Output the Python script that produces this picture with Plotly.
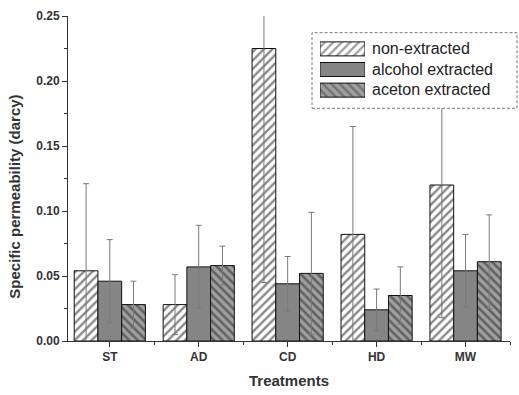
import plotly.graph_objects as go

categories = ["ST", "AD", "CD", "HD", "MW"]
series_names = ["non-extracted", "alcohol extracted", "aceton extracted"]
non_extracted = [0.054, 0.028, 0.225, 0.082, 0.120]
non_extracted_err = [0.067, 0.023, 0.180, 0.083, 0.102]
alcohol_extracted = [0.046, 0.057, 0.044, 0.024, 0.054]
alcohol_extracted_err = [0.032, 0.032, 0.021, 0.016, 0.028]
aceton_extracted = [0.028, 0.058, 0.052, 0.035, 0.061]
aceton_extracted_err = [0.018, 0.015, 0.047, 0.022, 0.036]
y_ticks = [0.00, 0.05, 0.10, 0.15, 0.20, 0.25]

FONT = "Liberation Sans, Arial, sans-serif"
x_pos = list(range(len(categories)))

styles = [
    dict(color="white", pattern=dict(shape="/", fgcolor="#111111", bgcolor="white", size=6, solidity=0.4)),
    dict(color="#858585", pattern=dict(shape="", fgcolor="#858585", bgcolor="#858585")),
    dict(color="#a0a0a0", pattern=dict(shape="\\", fgcolor="#222222", bgcolor="#a0a0a0", size=6, solidity=0.42)),
]
values = [non_extracted, alcohol_extracted, aceton_extracted]
errors = [non_extracted_err, alcohol_extracted_err, aceton_extracted_err]

fig = go.Figure()
for name, vals, errs, st in zip(series_names, values, errors, styles):
    fig.add_trace(go.Bar(
        x=x_pos, y=vals, name=name, showlegend=False,
        marker=dict(color=st["color"], pattern=st["pattern"], line=dict(color="#111", width=1)),
        error_y=dict(type="data", array=errs, visible=True, color="#7a7a7a", thickness=1, width=3),
    ))

# legend background (covers marks beneath legend box)
fig.add_trace(go.Scatter(
    x=[0, 1, 1, 0, 0], y=[0, 0, 1, 1, 0], xaxis="x2", yaxis="y2",
    mode="lines", fill="toself", fillcolor="white", line=dict(width=0, color="white"),
    hoverinfo="skip", showlegend=False,
))

# legend swatches
fig.add_trace(go.Bar(
    y=list(range(len(series_names))), x=[1] * len(series_names), orientation="h",
    xaxis="x3", yaxis="y3", width=0.68, showlegend=False, hoverinfo="skip",
    marker=dict(
        color=[s["color"] for s in styles],
        pattern=dict(
            shape=[s["pattern"]["shape"] for s in styles],
            fgcolor=[s["pattern"]["fgcolor"] for s in styles],
            bgcolor=[s["pattern"]["bgcolor"] for s in styles],
            size=6, solidity=0.4,
        ),
        line=dict(color="#111", width=1),
    ),
))

L, R, T, B, W, H = 68, 9, 10, 54, 519, 395
pw, ph = W - L - R, H - T - B
def px_x(px):
    return (px - L) / pw
def px_y(py):
    return (H - B - py) / ph

fig.update_layout(
    width=W, height=H,
    margin=dict(l=L, r=R, t=T, b=B),
    paper_bgcolor="white", plot_bgcolor="white",
    barmode="group", bargap=0.2, bargroupgap=0,
    font=dict(family=FONT, color="#333"),
    xaxis=dict(
        range=[-0.47, 4.5], tickvals=x_pos, ticktext=categories,
        showline=True, linecolor="#333", linewidth=1, showgrid=False, zeroline=False,
        ticks="outside", ticklen=5, tickcolor="#333",
        minor=dict(ticks="outside", tick0=0.5, dtick=1, ticklen=3, tickcolor="#333"),
        tickfont=dict(size=12, family=FONT, weight="bold", color="#333"),
    ),
    yaxis=dict(
        range=[0, 0.25], tickvals=y_ticks, tickformat=".2f",
        showline=True, linecolor="#333", linewidth=1, showgrid=False, zeroline=False,
        ticks="outside", ticklen=5, tickcolor="#333",
        minor=dict(ticks="outside", dtick=0.025, ticklen=3, tickcolor="#333"),
        tickfont=dict(size=12, family=FONT, weight="bold", color="#333"),
    ),
    xaxis2=dict(domain=[px_x(312), 1], anchor="y2", range=[0, 1], visible=False, fixedrange=True),
    yaxis2=dict(domain=[px_y(104), px_y(27)], anchor="x2", range=[0, 1], visible=False, fixedrange=True),
    xaxis3=dict(domain=[px_x(320), px_x(365)], anchor="y3", range=[0, 1], visible=False, fixedrange=True),
    yaxis3=dict(domain=[px_y(96), px_y(33)], anchor="x3", range=[2.5, -0.5], visible=False, fixedrange=True),
)

fig.add_shape(type="rect", xref="paper", yref="paper",
              x0=px_x(312), x1=px_x(517), y0=px_y(104), y1=px_y(27),
              line=dict(color="#777", width=1, dash="3px,2px"), fillcolor="rgba(0,0,0,0)", layer="above")

row_y = [43.5, 64.5, 85]
for name, ry in zip(series_names, row_y):
    fig.add_annotation(text=name, xref="paper", yref="paper", x=px_x(370), y=px_y(ry),
                       xanchor="left", yanchor="middle", showarrow=False,
                       font=dict(size=16, family=FONT, color="#222"))

fig.add_annotation(text="Treatments", xref="paper", yref="paper", x=0.5, y=px_y(381),
                   xanchor="center", yanchor="middle", showarrow=False,
                   font=dict(size=15, family=FONT, weight="bold", color="#333"))
fig.add_annotation(text="Specific permeability (darcy)", xref="paper", yref="paper",
                   x=px_x(15), y=px_y(194), textangle=-90,
                   xanchor="center", yanchor="middle", showarrow=False,
                   font=dict(size=15, family=FONT, weight="bold", color="#333"))

fig.write_html("out.html", config={"displayModeBar": False},
               post_script="document.body.style.margin='0';")
